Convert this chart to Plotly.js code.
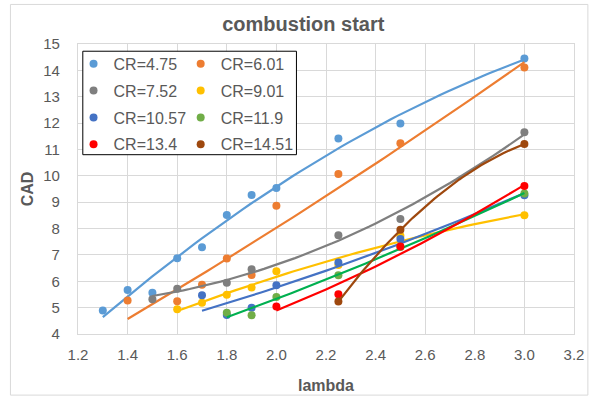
<!DOCTYPE html>
<html>
<head>
<meta charset="utf-8">
<script src="https://cdn.plot.ly/plotly-3.0.1.min.js"></script>
<style>
  html, body { margin: 0; padding: 0; background: #fff; }
  #chart { width: 589px; height: 396px; }
</style>
</head>
<body>
<div id="chart"></div>
<script>
// Start of combustion (CAD) versus lambda, one series per compression ratio
const seriesNames = ['CR=4.75', 'CR=6.01', 'CR=7.52', 'CR=9.01', 'CR=10.57', 'CR=11.9', 'CR=13.4', 'CR=14.51'];

const lambda475 = [1.3, 1.4, 1.5, 1.6, 1.7, 1.8, 1.9, 2.0, 2.25, 2.5, 3.0];
const cad475    = [4.89, 5.67, 5.56, 6.87, 7.29, 8.51, 9.27, 9.54, 11.42, 11.98, 14.45];

const lambda601 = [1.4, 1.6, 1.7, 1.8, 1.9, 2.0, 2.25, 2.5, 3.0];
const cad601    = [5.27, 5.24, 5.87, 6.86, 6.24, 8.86, 10.07, 11.24, 14.11];

const lambda752 = [1.5, 1.6, 1.8, 1.9, 2.25, 2.5, 3.0];
const cad752    = [5.32, 5.72, 5.94, 6.46, 7.75, 8.36, 11.65];

const lambda901 = [1.6, 1.7, 1.8, 1.9, 2.0, 2.25, 2.5, 3.0];
const cad901    = [4.94, 5.19, 5.49, 5.76, 6.38, 6.62, 7.73, 8.5];

const lambda1057 = [1.7, 1.8, 1.9, 2.0, 2.25, 2.5, 3.0];
const cad1057    = [5.47, 4.72, 5.0, 5.85, 6.71, 7.6, 9.26];

const lambda119 = [1.8, 1.9, 2.0, 2.25, 2.5, 3.0];
const cad119    = [4.81, 4.71, 5.4, 6.23, 7.3, 9.33];

const lambda134 = [2.0, 2.25, 2.5, 3.0];
const cad134    = [5.04, 5.51, 7.32, 9.61];

const lambda1451 = [2.25, 2.5, 3.0];
const cad1451    = [5.23, 7.95, 11.21];

const xTicks = [1.2, 1.4, 1.6, 1.8, 2.0, 2.2, 2.4, 2.6, 2.8, 3.0, 3.2];

const lambdas = [lambda475, lambda601, lambda752, lambda901, lambda1057, lambda119, lambda134, lambda1451];
const cads    = [cad475, cad601, cad752, cad901, cad1057, cad119, cad134, cad1451];

const markerColors = ['#5B9BD5', '#ED7D31', '#7F7F7F', '#FFC000', '#4472C4', '#70AD47', '#FF0000', '#9E480E'];
const lineColors   = ['#5B9BD5', '#ED7D31', '#7F7F7F', '#FFC000', '#4472C4', '#00B050', '#FF0000', '#9E480E'];

// Second-order polynomial trendline (least squares)
function quadFit(xs, ys) {
  let s = [0, 0, 0, 0, 0], t = [0, 0, 0];
  for (let i = 0; i < xs.length; i++) {
    const x = xs[i], y = ys[i];
    let p = 1;
    for (let k = 0; k < 5; k++) { s[k] += p; if (k < 3) t[k] += p * y; p *= x; }
  }
  const A = [[s[0], s[1], s[2], t[0]], [s[1], s[2], s[3], t[1]], [s[2], s[3], s[4], t[2]]];
  for (let c = 0; c < 3; c++) {
    let piv = c;
    for (let r = c + 1; r < 3; r++) if (Math.abs(A[r][c]) > Math.abs(A[piv][c])) piv = r;
    [A[c], A[piv]] = [A[piv], A[c]];
    for (let r = 0; r < 3; r++) {
      if (r === c) continue;
      const f = A[r][c] / A[c][c];
      for (let k = c; k < 4; k++) A[r][k] -= f * A[c][k];
    }
  }
  return [A[0][3] / A[0][0], A[1][3] / A[1][1], A[2][3] / A[2][2]];
}

const traces = [];
const col1 = [0, 2, 4, 6];
seriesNames.forEach((name, i) => {
  const legendId = col1.includes(i) ? 'legend' : 'legend2';
  traces.push({
    type: 'scatter', mode: 'markers', name: name,
    x: lambdas[i], y: cads[i],
    legend: legendId, legendgroup: 'g' + i,
    marker: { color: markerColors[i], size: 8 },
    hoverinfo: 'x+y'
  });
  const c = quadFit(lambdas[i], cads[i]);
  const x0 = Math.min(...lambdas[i]), x1 = Math.max(...lambdas[i]);
  const fx = [], fy = [];
  for (let k = 0; k <= 60; k++) {
    const x = x0 + (x1 - x0) * k / 60;
    fx.push(x); fy.push(c[0] + c[1] * x + c[2] * x * x);
  }
  traces.push({
    type: 'scatter', mode: 'lines', x: fx, y: fy,
    showlegend: false, hoverinfo: 'skip',
    line: { color: lineColors[i], width: 2.2 }
  });
});

const FONT = 'Liberation Sans, Arial, sans-serif';
const GREY = '#595959';

const legendCommon = {
  bgcolor: 'rgba(0,0,0,0)', borderwidth: 0,
  font: { family: FONT, size: 16, color: GREY },
  traceorder: 'grouped', tracegroupgap: 3,
  xanchor: 'left', yanchor: 'top', itemwidth: 30
};

const layout = {
  width: 589, height: 396,
  margin: { l: 78, r: 15, t: 44, b: 62 },
  paper_bgcolor: '#ffffff', plot_bgcolor: '#ffffff',
  font: { family: FONT, color: GREY },
  title: {
    text: '<b>combustion start</b>',
    font: { family: FONT, size: 20, color: GREY },
    x: 0.515, xanchor: 'center', y: 0.94, yanchor: 'middle'
  },
  xaxis: {
    range: [1.2, 3.2], tickvals: xTicks,
    ticktext: xTicks.map(v => v.toFixed(1)),
    showgrid: true, gridcolor: '#d9d9d9', gridwidth: 1.3,
    zeroline: false, showline: true, linecolor: '#d9d9d9', linewidth: 1.3, mirror: true,
    ticks: '', ticklabelstandoff: 7,
    tickfont: { family: FONT, size: 15, color: GREY },
    title: { text: '<b>lambda</b>', font: { family: FONT, size: 16, color: GREY }, standoff: 17 }
  },
  yaxis: {
    range: [4, 15], dtick: 1, tick0: 4,
    showgrid: true, gridcolor: '#d9d9d9', gridwidth: 1.3,
    zeroline: false, showline: true, linecolor: '#d9d9d9', linewidth: 1.3, mirror: true,
    ticks: '', ticklabelstandoff: 14,
    tickfont: { family: FONT, size: 15, color: GREY },
    title: { text: '<b>CAD</b>', font: { family: FONT, size: 16, color: GREY }, standoff: 5 }
  },
  legend: Object.assign({ x: -0.009, y: 0.99 }, legendCommon),
  legend2: Object.assign({ x: 0.207, y: 0.99 }, legendCommon),
  shapes: [
    { type: 'rect', xref: 'paper', yref: 'paper', layer: 'below',
      x0: -0.1362, x1: 1.028, y0: -0.2107, y1: 1.1364,
      line: { color: '#d9d9d9', width: 1 }, fillcolor: 'rgba(0,0,0,0)' },
    { type: 'rect', xref: 'paper', yref: 'paper', layer: 'above',
      x0: 0.0097, x1: 0.4404, y0: 0.6183, y1: 0.9751,
      line: { color: '#000000', width: 1 }, fillcolor: '#ffffff' }
  ],
  showlegend: true
};

Plotly.newPlot('chart', traces, layout, { displayModeBar: false, responsive: false });
</script>
</body>
</html>
